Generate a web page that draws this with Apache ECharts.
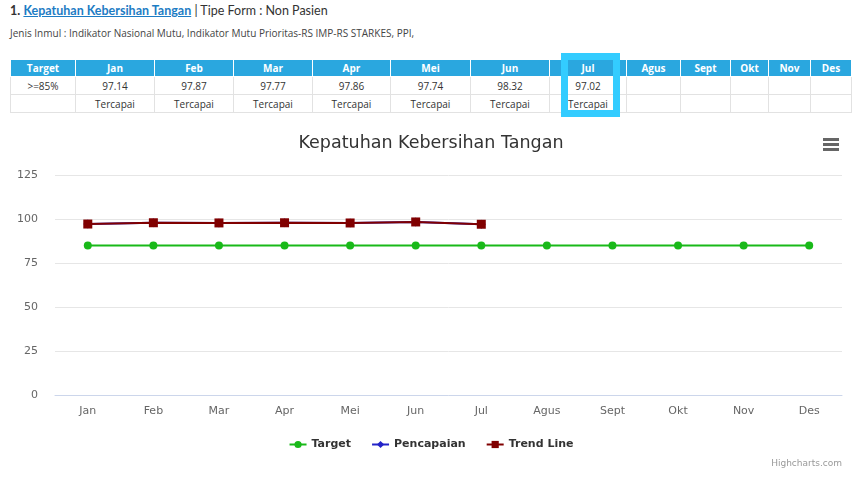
<!DOCTYPE html>
<html>
<head>
<meta charset="utf-8">
<script src="https://cdn.jsdelivr.net/npm/echarts@6/dist/echarts.min.js"></script>
<style>
  body { margin: 0; background: #fff; font-family: "Open Sans", Lato, sans-serif; color: #333; }
  #wrap { position: relative; width: 862px; height: 490px; overflow: hidden; }
  #head1 { position: absolute; left: 10px; top: 3px; font-size: 12.5px; font-family: Lato, sans-serif; }
  #head1 a { color: #1d7cc4; font-weight: bold; text-decoration: underline; }
  #head2 { position: absolute; left: 10px; top: 26px; font-size: 10px; color: #444; }
  table { position: absolute; left: 10px; top: 60px; width: 841px; table-layout: fixed; border-collapse: collapse; font-size: 10px; }
  th { background: #2aa7df; color: #fff; font-weight: bold; height: 16px; padding: 0; border: 1px solid #fff; border-top: 0; }
  td { height: 17px; padding: 0; text-align: center; border: 1px solid #e2e2e2; }
  #hl { position: absolute; left: 561px; top: 53px; width: 45px; height: 50px; border: 7px solid #33ccff; }
  #main { position: absolute; left: 0; top: 118px; width: 862px; height: 372px; }
</style>
</head>
<body>
<div id="wrap">
  <div id="head1"><b>1.</b> <a>Kepatuhan Kebersihan Tangan</a> | Tipe Form : Non Pasien</div>
  <div id="head2">Jenis Inmul : Indikator Nasional Mutu, Indikator Mutu Prioritas-RS IMP-RS STARKES, PPI,</div>
  <table id="tbl"></table>
  <div id="hl"></div>
  <div id="main"></div>
</div>
<script>
var months = ['Jan', 'Feb', 'Mar', 'Apr', 'Mei', 'Jun', 'Jul', 'Agus', 'Sept', 'Okt', 'Nov', 'Des'];
var colWidths = [65, 79, 79, 79, 78, 80, 79, 77, 54, 50, 38, 42, 41];
var targetLabel = '>=85%';
var tableValues = ['97.14', '97.87', '97.77', '97.86', '97.74', '98.32', '97.02'];
var statusValues = ['Tercapai', 'Tercapai', 'Tercapai', 'Tercapai', 'Tercapai', 'Tercapai', 'Tercapai'];
var targetData = [85, 85, 85, 85, 85, 85, 85, 85, 85, 85, 85, 85];
var pencapaianData = [97.14, 97.87, 97.77, 97.86, 97.74, 98.32, 97.02];
var trendData = [97.14, 97.87, 97.77, 97.86, 97.74, 98.32, 97.02];

// table
var html = '<colgroup>';
colWidths.forEach(function (w) { html += '<col style="width:' + w + 'px">'; });
html += '</colgroup><tr><th>Target</th>';
months.forEach(function (m) { html += '<th>' + m + '</th>'; });
html += '</tr><tr><td>' + targetLabel + '</td>';
months.forEach(function (m, i) { html += '<td>' + (tableValues[i] || '') + '</td>'; });
html += '</tr><tr><td></td>';
months.forEach(function (m, i) { html += '<td>' + (statusValues[i] || '') + '</td>'; });
html += '</tr>';
document.getElementById('tbl').innerHTML = html;

var chart = echarts.init(document.getElementById('main'));
var font = '"DejaVu Sans", sans-serif';

chart.setOption({
    animation: false,
    textStyle: { fontFamily: font },
    title: {
        text: 'Kepatuhan Kebersihan Tangan',
        left: 'center',
        top: 11,
        textStyle: { fontSize: 17.5, fontWeight: 'normal', color: '#333', fontFamily: font }
    },
    legend: {
        bottom: 35,
        left: 'center',
        itemGap: 20,
        itemWidth: 17,
        itemHeight: 9,
        textStyle: { fontSize: 11, fontWeight: 'bold', color: '#333', fontFamily: font },
        data: ['Target', 'Pencapaian', 'Trend Line']
    },
    grid: { left: 55, right: 20, top: 57, bottom: 95 },
    xAxis: {
        type: 'category',
        data: months,
        axisLine: { lineStyle: { color: '#ccd6eb' } },
        axisTick: { length: 9, lineStyle: { color: '#ccd6eb' } },
        axisLabel: { color: '#666', fontSize: 11, margin: 11, fontFamily: font }
    },
    yAxis: {
        type: 'value',
        min: 0,
        max: 125,
        interval: 25,
        axisLine: { show: false },
        axisTick: { show: false },
        splitLine: { lineStyle: { color: '#e6e6e6' } },
        axisLabel: { color: '#666', fontSize: 11, margin: 17, fontFamily: font }
    },
    series: [{
        name: 'Target',
        type: 'line',
        data: targetData,
        color: '#19b919',
        symbol: 'circle',
        symbolSize: 8,
        lineStyle: { width: 2 }
    }, {
        name: 'Pencapaian',
        type: 'line',
        data: pencapaianData,
        color: '#2323c8',
        symbol: 'diamond',
        symbolSize: 9,
        lineStyle: { width: 2 }
    }, {
        name: 'Trend Line',
        type: 'line',
        data: trendData,
        color: '#800000',
        symbol: 'rect',
        symbolSize: 9,
        lineStyle: { width: 2 }
    }],
    graphic: [
        { type: 'rect', shape: { x: 823, y: 20, width: 16, height: 3 }, style: { fill: '#666' } },
        { type: 'rect', shape: { x: 823, y: 25, width: 16, height: 3 }, style: { fill: '#666' } },
        { type: 'rect', shape: { x: 823, y: 30, width: 16, height: 3 }, style: { fill: '#666' } },
        { type: 'text', right: 20, top: 341, style: { text: 'Highcharts.com', fill: '#999', fontSize: 9, fontFamily: font } }
    ]
});
</script>
</body>
</html>
